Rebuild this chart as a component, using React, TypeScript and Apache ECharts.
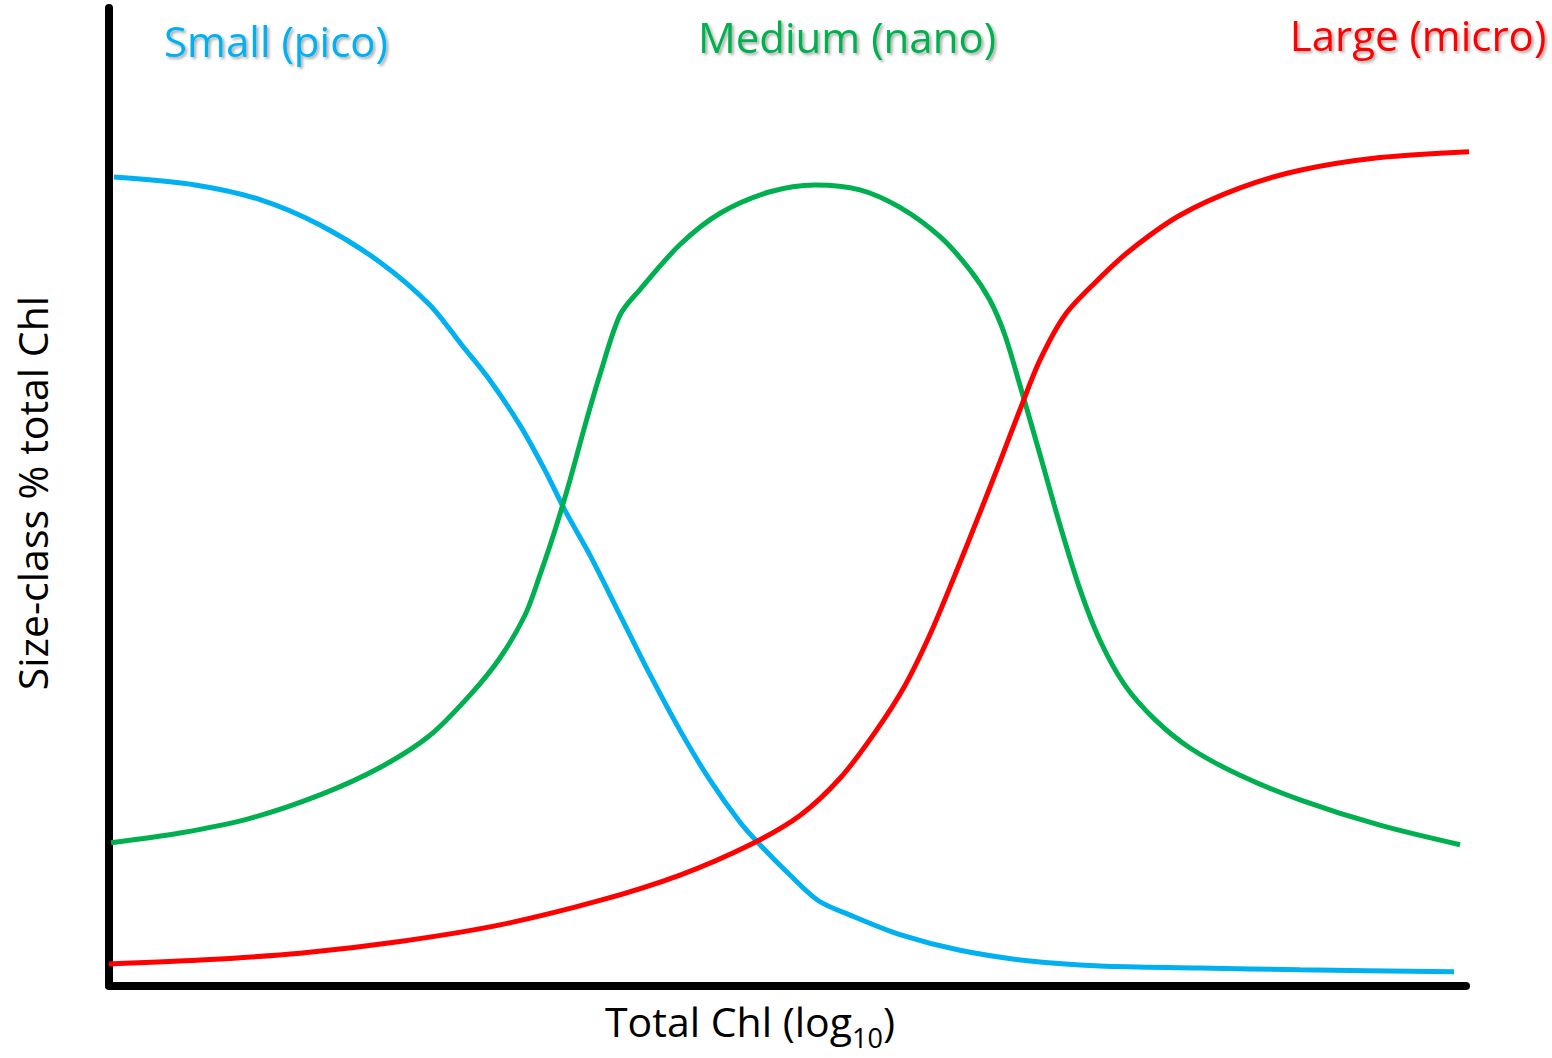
import React, { useEffect, useRef } from "react";
import * as echarts from "echarts";

// Values in % of axis extents (x: 0..100 along log10 Total Chl, y: 0..100 size-class %)
const smallX = [0.37, 6.34, 11.13, 15.55, 19.97, 23.66, 26.01, 28.08, 30.29, 32.13, 33.6, 35.45, 37.66, 39.87, 42.08, 44.29, 46.5, 47.97, 50.18, 52.25, 54.61, 58.29, 62.71, 67.87, 73.03, 80.4, 87.77, 99.12];
const smallY = [82.7, 81.9, 80.4, 77.8, 74.0, 69.6, 65.5, 61.9, 57.3, 52.7, 48.6, 44.0, 37.9, 31.8, 26.1, 21.0, 16.7, 14.4, 11.3, 8.7, 7.2, 5.2, 3.6, 2.5, 2.0, 1.8, 1.6, 1.4];

const mediumX = [0.15, 5.23, 10.39, 15.55, 19.97, 23.66, 26.6, 28.81, 30.66, 31.76, 32.87, 33.97, 35.08, 36.18, 37.66, 39.13, 42.08, 45.03, 48.71, 52.03, 55.34, 58.29, 61.24, 63.45, 64.92, 66.03, 67.13, 68.61, 70.08, 71.56, 73.03, 74.87, 77.08, 79.66, 83.35, 87.77, 93.66, 99.56];
const mediumY = [14.6, 15.6, 17.1, 19.5, 22.3, 25.6, 29.7, 33.5, 37.9, 42.0, 46.6, 51.7, 57.3, 62.5, 68.6, 71.2, 75.8, 79.0, 81.2, 81.9, 81.4, 79.6, 76.6, 73.2, 70.1, 66.5, 61.4, 54.3, 47.1, 40.5, 35.3, 30.7, 27.2, 24.3, 21.5, 19.0, 16.4, 14.4];

const largeX = [0, 6.71, 14.08, 21.44, 28.81, 36.18, 42.08, 47.24, 50.92, 53.87, 56.45, 58.66, 60.5, 62.34, 64.19, 65.66, 67.13, 68.61, 70.45, 72.66, 75.24, 78.92, 83.35, 87.77, 93.66, 100.22];
const largeY = [2.2, 2.6, 3.3, 4.5, 6.2, 8.7, 11.3, 14.4, 17.4, 21.2, 25.9, 30.7, 35.9, 42.0, 48.4, 53.6, 58.9, 64.0, 68.6, 71.9, 75.2, 78.8, 81.6, 83.4, 84.7, 85.3];

const seriesNames = ["Small (pico)", "Medium (nano)", "Large (micro)"];
const seriesColors = ["#00B0F0", "#00B050", "#FF0000"];
const xTitle = ["Total Chl (log", "10", ")"];
const yTitle = "Size-class % total Chl";

const zip = (xs: number[], ys: number[]) => xs.map((x, i) => [x, ys[i]]);

export default function App() {
  const ref = useRef<HTMLDivElement>(null);
  useEffect(() => {
    if (!ref.current) return;
    const chart = echarts.init(ref.current, null, { renderer: "svg" });
    const font = "'Open Sans', 'Noto Sans', sans-serif";
    const titleStyle = (i: number) => ({
      text: seriesNames[i],
      fill: seriesColors[i],
      font: `42px ${font}`,
      textAlign: "center",
      textVerticalAlign: "middle",
      textShadowColor: "rgba(0,0,0,0.35)",
      textShadowBlur: 3,
      textShadowOffsetX: 2,
      textShadowOffsetY: 2,
    });
    const datas = [zip(smallX, smallY), zip(mediumX, mediumY), zip(largeX, largeY)];
    chart.setOption({
      animation: false,
      backgroundColor: "#ffffff",
      grid: { left: 109, right: 86, top: 8, bottom: 72.5 },
      xAxis: {
        type: "value",
        min: 0,
        max: 100,
        axisLine: { show: true, lineStyle: { color: "#000", width: 8 } },
        axisTick: { show: false },
        axisLabel: { show: false },
        splitLine: { show: false },
      },
      yAxis: {
        type: "value",
        min: 0,
        max: 100,
        axisLine: { show: true, lineStyle: { color: "#000", width: 8 } },
        axisTick: { show: false },
        axisLabel: { show: false },
        splitLine: { show: false },
      },
      series: datas.map((d, i) => ({
        type: "line",
        name: seriesNames[i],
        data: d,
        smooth: 0.3,
        showSymbol: false,
        clip: false,
        lineStyle: { color: seriesColors[i], width: 5 },
        z: 1,
      })),
      graphic: [
        { type: "text", x: 276, y: 40, style: titleStyle(0) },
        { type: "text", x: 847, y: 36, style: titleStyle(1) },
        { type: "text", x: 1418, y: 34, style: titleStyle(2) },
        {
          type: "text",
          x: 750,
          y: 1021,
          style: {
            text: `{a|${xTitle[0]}}{s|${xTitle[1]}}{a|${xTitle[2]}}`,
            textAlign: "center",
            textVerticalAlign: "middle",
            rich: {
              a: { fontSize: 41, fontFamily: font, fill: "#000", verticalAlign: "middle", lineHeight: 60 },
              s: { fontSize: 27, fontFamily: font, fill: "#000", verticalAlign: "bottom", lineHeight: 20 },
            },
          },
        },
        {
          type: "text",
          x: 32,
          y: 493,
          rotation: Math.PI / 2,
          style: {
            text: yTitle,
            fill: "#000",
            font: `41px ${font}`,
            textAlign: "center",
            textVerticalAlign: "middle",
          },
        },
      ],
    });
    return () => chart.dispose();
  }, []);
  return (
    <div
      ref={ref}
      style={{ position: "fixed", left: 0, top: 0, width: 1552, height: 1058, background: "#fff" }}
    />
  );
}
